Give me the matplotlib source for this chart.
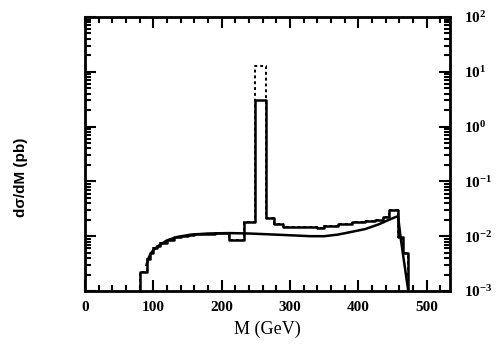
import numpy as np
import matplotlib
matplotlib.use("Agg")
from matplotlib import pyplot as plt
from matplotlib.ticker import LogLocator, MultipleLocator, NullFormatter

plt.rcParams["mathtext.fontset"] = "custom"
plt.rcParams["mathtext.rm"] = "Liberation Serif:bold"
plt.rcParams["mathtext.default"] = "rm"

# histogram bin edges (GeV) and contents (pb/GeV)
edges = [80, 90, 95, 100, 105, 110, 120, 130, 140, 150, 160, 170, 180, 190,
         200, 210, 233, 248, 265, 277, 290, 340, 350, 370, 390, 410, 425, 436,
         445, 458, 465, 473]
hist_solid = [0.0022, 0.0038, 0.0050, 0.0060, 0.0067, 0.0076, 0.0087, 0.0095,
              0.0100, 0.0105, 0.0108, 0.0110, 0.0112, 0.0113, 0.0114, 0.0085,
              0.018, 3.05, 0.0215, 0.0165, 0.0147, 0.0142, 0.0155, 0.0168,
              0.0180, 0.0190, 0.0200, 0.0220, 0.0300, 0.0095, 0.0050]
hist_dotted = list(hist_solid)
hist_dotted[17] = 12.8

# smooth curve
m_curve = [90, 93, 96, 100, 105, 110, 120, 135, 155, 180, 210, 240, 270, 300,
           330, 350, 370, 390, 410, 430, 445, 455, 458, 462, 466, 470, 473]
s_curve = [0.0030, 0.0040, 0.0048, 0.0056, 0.0063, 0.0070, 0.0084, 0.0097,
           0.0107, 0.0112, 0.0114, 0.0112, 0.0108, 0.0104, 0.0100, 0.0100,
           0.0107, 0.0120, 0.0135, 0.0165, 0.0200, 0.0225, 0.0230, 0.0090,
           0.0040, 0.0018, 0.0010]


def step_xy(edges, vals, floor=1e-4):
    x = [edges[0]]
    y = [floor]
    for i, v in enumerate(vals):
        x += [edges[i], edges[i + 1]]
        y += [v, v]
    x.append(edges[-1])
    y.append(floor)
    return x, y


fig = plt.figure(figsize=(4.98, 3.54), dpi=100)
ax = fig.add_axes([85 / 498, 1 - 291 / 354, 365 / 498, 274 / 354])

xd, yd = step_xy(edges, hist_dotted)
ax.plot(xd, yd, color="black", lw=1.4, ls=(0, (1.5, 1.5)))
xs, ys = step_xy(edges, hist_solid)
ax.plot(xs, ys, color="black", lw=1.8)
ax.plot(m_curve, s_curve, color="black", lw=1.8)

ax.set_yscale("log")
ax.set_xlim(0, 534)
ax.set_ylim(1e-3, 1e2)

ax.xaxis.set_major_locator(MultipleLocator(100))
ax.xaxis.set_minor_locator(MultipleLocator(20))
ax.yaxis.set_major_locator(LogLocator(base=10, numticks=10))
ax.yaxis.set_minor_locator(LogLocator(base=10, subs=np.arange(2, 10), numticks=20))
ax.yaxis.set_minor_formatter(NullFormatter())

ax.tick_params(which="both", direction="in", top=True, right=True,
               left=True, labelleft=False, labelright=True, width=1.5)
ax.tick_params(which="major", length=8)
ax.tick_params(which="minor", length=4)
ax.tick_params(axis="y", pad=10)
ax.tick_params(axis="x", pad=7)
for sp in ax.spines.values():
    sp.set_linewidth(2)

for lab in ax.get_xticklabels() + ax.get_yticklabels():
    lab.set_fontfamily("Liberation Serif")
    lab.set_fontweight("bold")
    lab.set_fontsize(11)

ax.set_xlabel("M (GeV)", fontfamily="Liberation Serif", fontsize=13, labelpad=5)
fig.text(0.042, 0.5, "dσ/dM (pb)", rotation=90, va="center", ha="center",
         fontfamily="Liberation Sans", fontweight="bold", fontsize=11)

fig.savefig("out.png", dpi=100)
